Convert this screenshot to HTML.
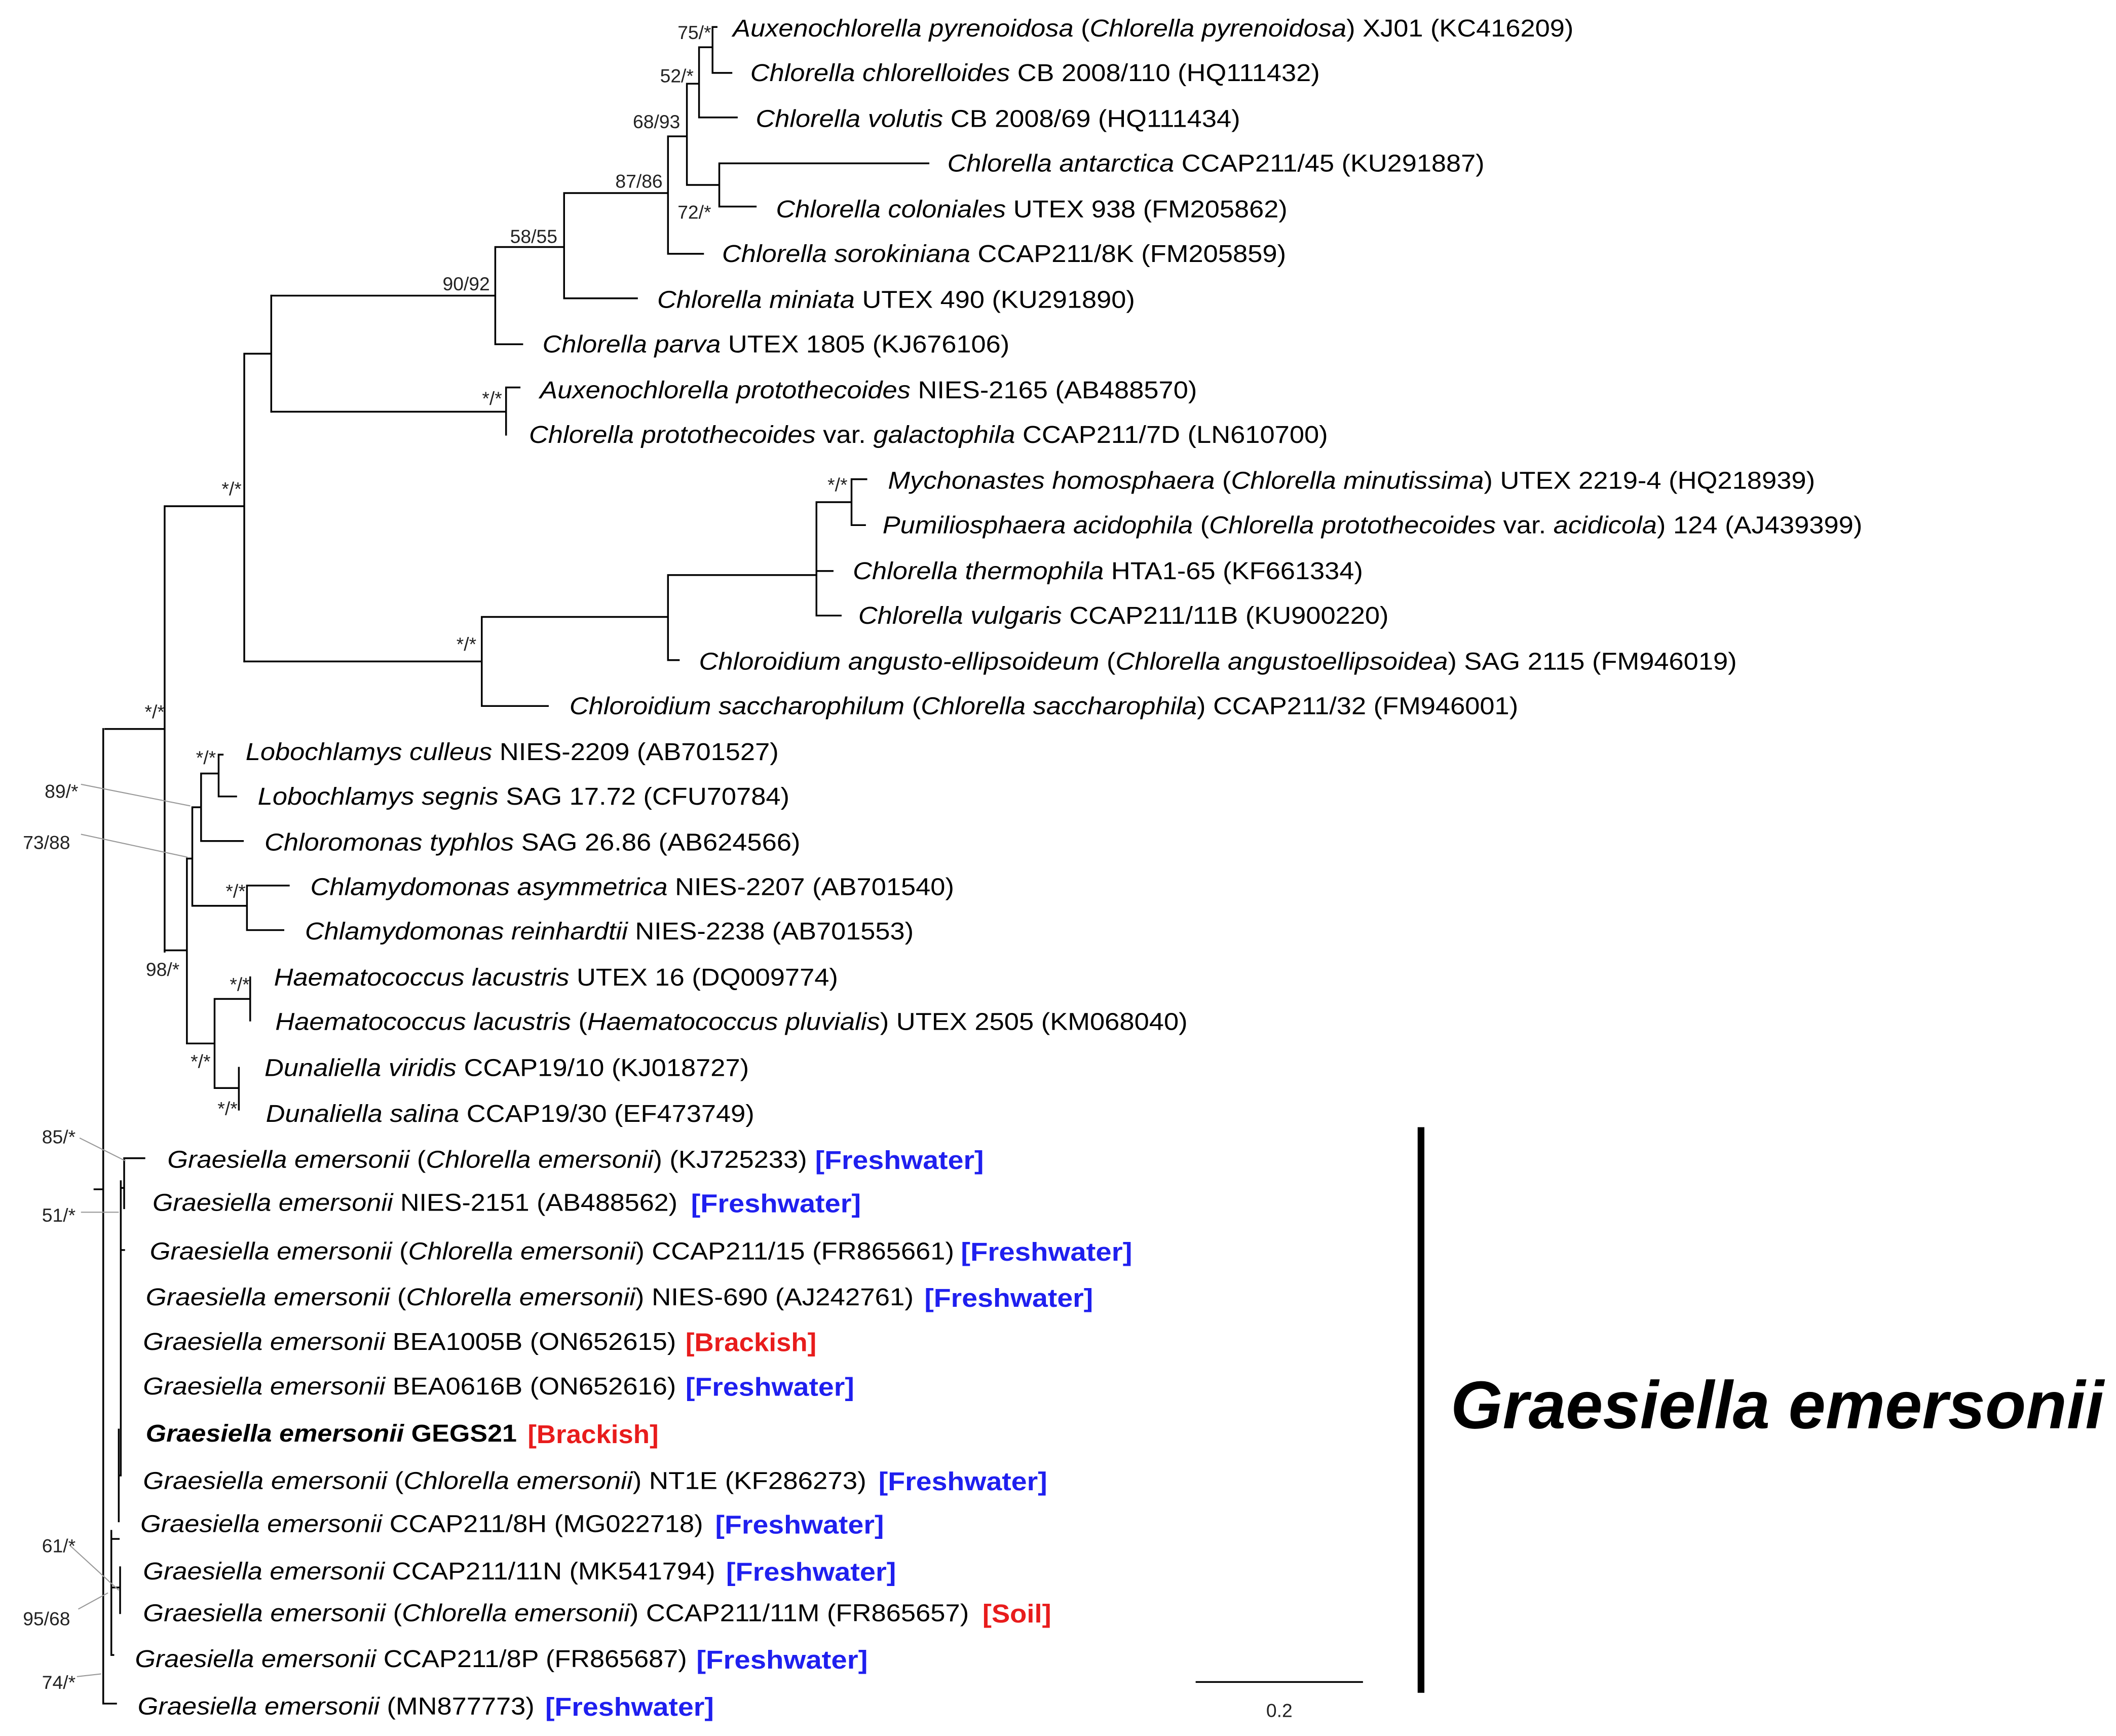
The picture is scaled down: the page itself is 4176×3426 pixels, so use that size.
<!DOCTYPE html>
<html><head><meta charset="utf-8"><style>
html,body{margin:0;padding:0;background:#fff;}
svg{display:block;}
text{font-family:"Liberation Sans",Arial,sans-serif;}
</style></head><body>
<svg width="4176" height="3426" viewBox="0 0 1568 1286" preserveAspectRatio="none" xmlns="http://www.w3.org/2000/svg">
<rect width="1568" height="1286" fill="#fff"/>
<g stroke="#000" stroke-width="1.3" fill="none" stroke-linecap="square">
<!-- top clade -->
<path d="M78 540 H122 M122 375 V705 M122 375 H181 M181 262 V490 M181 262 H201 M201 219 V305"/>
<path d="M201 219 H367 M367 183 V255 M367 255 H387 M367 183 H418 M418 143 V221 M418 221 H472 M418 143 H495 M495 101 V188 M495 188 H521 M495 101 H509 M509 62 V137 M509 137 H533 M533 121 V153 M533 121 H688 M533 153 H560 M509 62 H518 M518 35 V87 M518 87 H546 M518 35 H528 M528 20 V54 M528 54 H542 M528 20 H531"/>
<path d="M201 305 H375 M375 287 V322 M375 287 H385"/>
<path d="M181 490 H357 M357 457 V523 M357 523 H406 M357 457 H495 M495 426 V489 M495 489 H503 M495 426 H605 M605 372 V456 M605 372 H631 M631 355 V389 M631 355 H642 M631 389 H641 M605 423 H617 M605 456 H623"/>
<!-- chlamy clade -->
<path d="M122 704 H138.5 M138.5 636 V773 M138.5 636 H142.5 M142.5 598 V671 M142.5 671 H183 M183 656 V689 M183 656 H214 M183 689 H210 M142.5 598 H149 M149 573 V623 M149 623 H180 M149 573 H162 M162 559 V590 M162 559 H165 M162 590 H175"/>
<path d="M138.5 773 H159 M159 740 V806 M159 740 H185.4 M185.4 724 V756 M159 806 H177 M177 791 V822"/>
<!-- Graesiella -->
<path d="M76.5 540 V1262 M76.5 1262 H86 M70 881 H76.5"/>
<path d="M82.5 1134 V1226 M82.5 1176 H89 M89 1161 V1195 M82.5 1140 H88 M88 1059 V1127 M88 1093 H89.5 M89.5 875 V1093 M89.5 880 H92 M92 858 V895 M92 858 H107 M89.5 926 H92 M82.5 1226 H84"/>
</g>
<!-- leader lines -->
<g stroke="#999" stroke-width="0.8" fill="none">
<path d="M60 581 L141 597 M60 618 L139 635 M59 843 L93 860 M60 898 H88 M52 1145 L88 1178 M58 1192 L80 1180 M57 1242 L75 1240"/>
</g>
<!-- support values -->
<g font-size="14" fill="#222" text-anchor="end">
<text x="527" y="29">75/*</text>
<text x="514" y="61">52/*</text>
<text x="504" y="95">68/93</text>
<text x="491" y="139">87/86</text>
<text x="527" y="162">72/*</text>
<text x="413" y="180">58/55</text>
<text x="363" y="215">90/92</text>
<text x="372" y="300">*/*</text>
<text x="628" y="364">*/*</text>
<text x="353" y="482">*/*</text>
<text x="179" y="367">*/*</text>
<text x="122" y="532">*/*</text>
<text x="160" y="566">*/*</text>
<text x="58" y="591">89/*</text>
<text x="52" y="629">73/88</text>
<text x="182" y="665">*/*</text>
<text x="133" y="723">98/*</text>
<text x="185" y="734">*/*</text>
<text x="156" y="791">*/*</text>
<text x="176" y="826">*/*</text>
<text x="56" y="847">85/*</text>
<text x="56" y="905">51/*</text>
<text x="56" y="1150">61/*</text>
<text x="52" y="1204">95/68</text>
<text x="56" y="1251">74/*</text>
</g>
<!-- taxa -->
<g font-size="18" fill="#000" lengthAdjust="spacingAndGlyphs">
<text x="543" y="27" textLength="623" lengthAdjust="spacingAndGlyphs"><tspan font-style="italic">Auxenochlorella pyrenoidosa</tspan> (<tspan font-style="italic">Chlorella pyrenoidosa</tspan>) XJ01 (KC416209)</text>
<text x="556" y="60" textLength="422" lengthAdjust="spacingAndGlyphs"><tspan font-style="italic">Chlorella chlorelloides</tspan> CB 2008/110 (HQ111432)</text>
<text x="560" y="94" textLength="359" lengthAdjust="spacingAndGlyphs"><tspan font-style="italic">Chlorella volutis</tspan> CB 2008/69 (HQ111434)</text>
<text x="702" y="127" textLength="398" lengthAdjust="spacingAndGlyphs"><tspan font-style="italic">Chlorella antarctica</tspan> CCAP211/45 (KU291887)</text>
<text x="575" y="161" textLength="379" lengthAdjust="spacingAndGlyphs"><tspan font-style="italic">Chlorella coloniales</tspan> UTEX 938 (FM205862)</text>
<text x="535" y="194" textLength="418" lengthAdjust="spacingAndGlyphs"><tspan font-style="italic">Chlorella sorokiniana</tspan> CCAP211/8K (FM205859)</text>
<text x="487" y="228" textLength="354" lengthAdjust="spacingAndGlyphs"><tspan font-style="italic">Chlorella miniata</tspan> UTEX 490 (KU291890)</text>
<text x="402" y="261" textLength="346" lengthAdjust="spacingAndGlyphs"><tspan font-style="italic">Chlorella parva</tspan> UTEX 1805 (KJ676106)</text>
<text x="400" y="295" textLength="487" lengthAdjust="spacingAndGlyphs"><tspan font-style="italic">Auxenochlorella protothecoides</tspan> NIES-2165 (AB488570)</text>
<text x="392" y="328" textLength="592" lengthAdjust="spacingAndGlyphs"><tspan font-style="italic">Chlorella protothecoides</tspan> var. <tspan font-style="italic">galactophila</tspan> CCAP211/7D (LN610700)</text>
<text x="658" y="362" textLength="687" lengthAdjust="spacingAndGlyphs"><tspan font-style="italic">Mychonastes homosphaera</tspan> (<tspan font-style="italic">Chlorella minutissima</tspan>) UTEX 2219-4 (HQ218939)</text>
<text x="654" y="395" textLength="726" lengthAdjust="spacingAndGlyphs"><tspan font-style="italic">Pumiliosphaera acidophila</tspan> (<tspan font-style="italic">Chlorella protothecoides</tspan> var. <tspan font-style="italic">acidicola</tspan>) 124 (AJ439399)</text>
<text x="632" y="429" textLength="378" lengthAdjust="spacingAndGlyphs"><tspan font-style="italic">Chlorella thermophila</tspan> HTA1-65 (KF661334)</text>
<text x="636" y="462" textLength="393" lengthAdjust="spacingAndGlyphs"><tspan font-style="italic">Chlorella vulgaris</tspan> CCAP211/11B (KU900220)</text>
<text x="518" y="496" textLength="769" lengthAdjust="spacingAndGlyphs"><tspan font-style="italic">Chloroidium angusto-ellipsoideum</tspan> (<tspan font-style="italic">Chlorella angustoellipsoidea</tspan>) SAG 2115 (FM946019)</text>
<text x="422" y="529" textLength="703" lengthAdjust="spacingAndGlyphs"><tspan font-style="italic">Chloroidium saccharophilum</tspan> (<tspan font-style="italic">Chlorella saccharophila</tspan>) CCAP211/32 (FM946001)</text>
<text x="182" y="563" textLength="395" lengthAdjust="spacingAndGlyphs"><tspan font-style="italic">Lobochlamys culleus</tspan> NIES-2209 (AB701527)</text>
<text x="191" y="596" textLength="394" lengthAdjust="spacingAndGlyphs"><tspan font-style="italic">Lobochlamys segnis</tspan> SAG 17.72 (CFU70784)</text>
<text x="196" y="630" textLength="397" lengthAdjust="spacingAndGlyphs"><tspan font-style="italic">Chloromonas typhlos</tspan> SAG 26.86 (AB624566)</text>
<text x="230" y="663" textLength="477" lengthAdjust="spacingAndGlyphs"><tspan font-style="italic">Chlamydomonas asymmetrica</tspan> NIES-2207 (AB701540)</text>
<text x="226" y="696" textLength="451" lengthAdjust="spacingAndGlyphs"><tspan font-style="italic">Chlamydomonas reinhardtii</tspan> NIES-2238 (AB701553)</text>
<text x="203" y="730" textLength="418" lengthAdjust="spacingAndGlyphs"><tspan font-style="italic">Haematococcus lacustris</tspan> UTEX 16 (DQ009774)</text>
<text x="204" y="763" textLength="676" lengthAdjust="spacingAndGlyphs"><tspan font-style="italic">Haematococcus lacustris</tspan> (<tspan font-style="italic">Haematococcus pluvialis</tspan>) UTEX 2505 (KM068040)</text>
<text x="196" y="797" textLength="359" lengthAdjust="spacingAndGlyphs"><tspan font-style="italic">Dunaliella viridis</tspan> CCAP19/10 (KJ018727)</text>
<text x="197" y="831" textLength="362" lengthAdjust="spacingAndGlyphs"><tspan font-style="italic">Dunaliella salina</tspan> CCAP19/30 (EF473749)</text>

<text x="124" y="865" textLength="474" lengthAdjust="spacingAndGlyphs"><tspan font-style="italic">Graesiella emersonii</tspan> (<tspan font-style="italic">Chlorella emersonii</tspan>) (KJ725233)</text>
<text x="113" y="897" textLength="389" lengthAdjust="spacingAndGlyphs"><tspan font-style="italic">Graesiella emersonii</tspan> NIES-2151 (AB488562)</text>
<text x="111" y="933" textLength="596" lengthAdjust="spacingAndGlyphs"><tspan font-style="italic">Graesiella emersonii</tspan> (<tspan font-style="italic">Chlorella emersonii</tspan>) CCAP211/15 (FR865661)</text>
<text x="108" y="967" textLength="569" lengthAdjust="spacingAndGlyphs"><tspan font-style="italic">Graesiella emersonii</tspan> (<tspan font-style="italic">Chlorella emersonii</tspan>)  NIES-690 (AJ242761)</text>
<text x="106" y="1000" textLength="395" lengthAdjust="spacingAndGlyphs"><tspan font-style="italic">Graesiella emersonii</tspan> BEA1005B (ON652615)</text>
<text x="106" y="1033" textLength="395" lengthAdjust="spacingAndGlyphs"><tspan font-style="italic">Graesiella emersonii</tspan> BEA0616B (ON652616)</text>
<text x="108" y="1068" textLength="275" lengthAdjust="spacingAndGlyphs" font-weight="bold"><tspan font-style="italic">Graesiella emersonii</tspan> GEGS21</text>
<text x="106" y="1103" textLength="536" lengthAdjust="spacingAndGlyphs"><tspan font-style="italic">Graesiella emersonii</tspan> (<tspan font-style="italic">Chlorella emersonii</tspan>)  NT1E (KF286273)</text>
<text x="104" y="1135" textLength="417" lengthAdjust="spacingAndGlyphs"><tspan font-style="italic">Graesiella emersonii</tspan> CCAP211/8H (MG022718)</text>
<text x="106" y="1170" textLength="424" lengthAdjust="spacingAndGlyphs"><tspan font-style="italic">Graesiella emersonii</tspan> CCAP211/11N (MK541794)</text>
<text x="106" y="1201" textLength="612" lengthAdjust="spacingAndGlyphs"><tspan font-style="italic">Graesiella emersonii</tspan> (<tspan font-style="italic">Chlorella emersonii</tspan>)  CCAP211/11M (FR865657)</text>
<text x="100" y="1235" textLength="409" lengthAdjust="spacingAndGlyphs"><tspan font-style="italic">Graesiella emersonii</tspan> CCAP211/8P (FR865687)</text>
<text x="102" y="1270" textLength="294" lengthAdjust="spacingAndGlyphs"><tspan font-style="italic">Graesiella emersonii</tspan> (MN877773)</text>
</g>
<g font-size="19" font-weight="bold">
<text x="604" y="866" fill="#1f1fef" textLength="125" lengthAdjust="spacingAndGlyphs">[Freshwater]</text>
<text x="512" y="898" fill="#1f1fef" textLength="126" lengthAdjust="spacingAndGlyphs">[Freshwater]</text>
<text x="712" y="934" fill="#1f1fef" textLength="127" lengthAdjust="spacingAndGlyphs">[Freshwater]</text>
<text x="685" y="968" fill="#1f1fef" textLength="125" lengthAdjust="spacingAndGlyphs">[Freshwater]</text>
<text x="508" y="1001" fill="#e81c1c" textLength="97" lengthAdjust="spacingAndGlyphs">[Brackish]</text>
<text x="508" y="1034" fill="#1f1fef" textLength="125" lengthAdjust="spacingAndGlyphs">[Freshwater]</text>
<text x="391" y="1069" fill="#e81c1c" textLength="97" lengthAdjust="spacingAndGlyphs">[Brackish]</text>
<text x="651" y="1104" fill="#1f1fef" textLength="125" lengthAdjust="spacingAndGlyphs">[Freshwater]</text>
<text x="530" y="1136" fill="#1f1fef" textLength="125" lengthAdjust="spacingAndGlyphs">[Freshwater]</text>
<text x="538" y="1171" fill="#1f1fef" textLength="126" lengthAdjust="spacingAndGlyphs">[Freshwater]</text>
<text x="728" y="1202" fill="#e81c1c" textLength="51" lengthAdjust="spacingAndGlyphs">[Soil]</text>
<text x="516" y="1236" fill="#1f1fef" textLength="127" lengthAdjust="spacingAndGlyphs">[Freshwater]</text>
<text x="404" y="1271" fill="#1f1fef" textLength="125" lengthAdjust="spacingAndGlyphs">[Freshwater]</text>
</g>
<!-- clade bar -->
<rect x="1050.5" y="835" width="5" height="419" fill="#000"/>
<text x="1075" y="1058" font-size="50" font-weight="bold" font-style="italic" textLength="484" lengthAdjust="spacingAndGlyphs">Graesiella emersonii</text>
<!-- scale bar -->
<line x1="886" y1="1246" x2="1010" y2="1246" stroke="#000" stroke-width="1.3"/>
<text x="948" y="1272" font-size="14" text-anchor="middle" fill="#222">0.2</text>
</svg>
</body></html>
